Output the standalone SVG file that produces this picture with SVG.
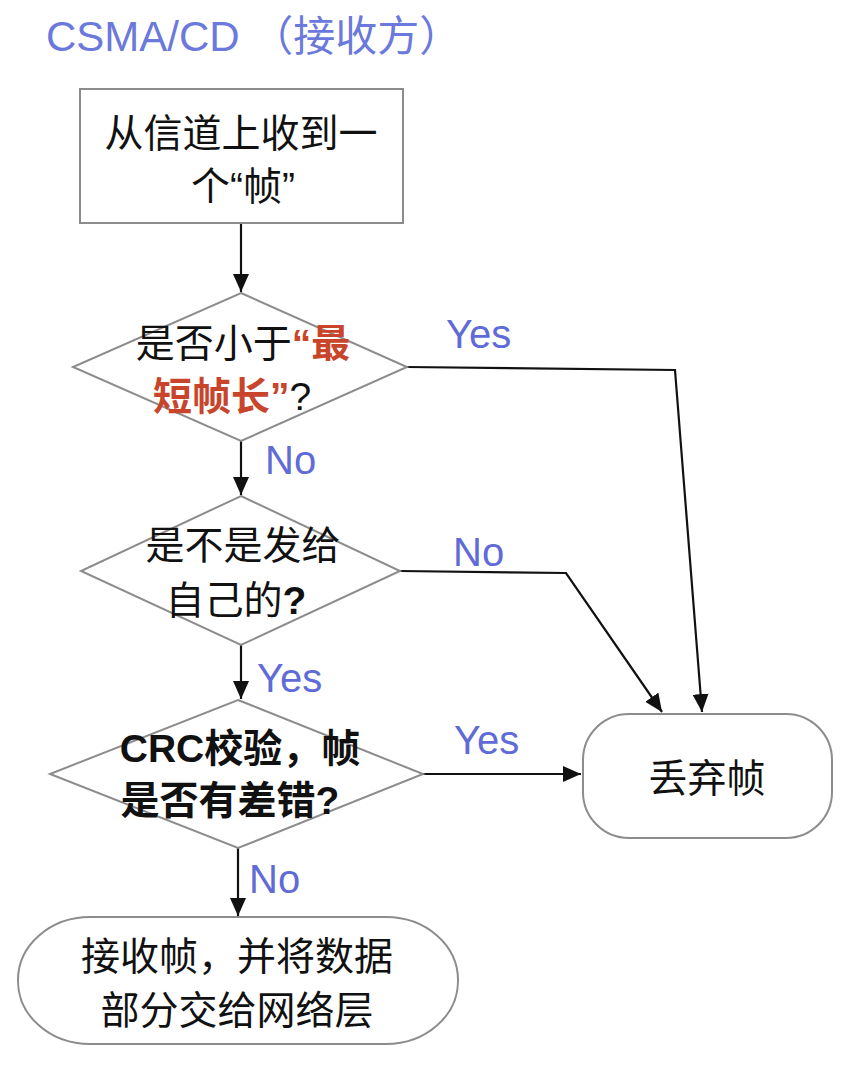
<svg xmlns="http://www.w3.org/2000/svg" width="850" height="1072" viewBox="0 0 850 1072">
  <style>
    .shape { fill: #ffffff; stroke: #8c8c8c; stroke-width: 2; }
    .edge { fill: none; stroke: #111111; stroke-width: 2.2; }
    .txt { font-family: "Liberation Sans", "Noto Sans CJK SC", sans-serif; font-size: 39px; fill: #111111; text-anchor: middle; }
    .bold { font-weight: bold; }
    .hl { fill: #c8452b; font-weight: bold; }
    .lbl { font-family: "Liberation Sans", "Noto Sans CJK SC", sans-serif; font-size: 40px; fill: #5f6bd6; }
    .title { font-family: "Liberation Sans", "Noto Sans CJK SC", sans-serif; font-size: 42px; fill: #6b78dc; }
  </style>
  <defs>
    <marker id="arrow" markerUnits="userSpaceOnUse" markerWidth="18" markerHeight="16" refX="18" refY="8" orient="auto">
      <path d="M0,0 L18,8 L0,16 z" fill="#111111"/>
    </marker>
  </defs>

  <rect width="850" height="1072" fill="#ffffff"/>

  <text class="title" x="46" y="51">CSMA/CD （接收方）</text>

  <!-- connectors -->
  <g id="connectors">
    <line class="edge" x1="241" y1="223" x2="241" y2="292" marker-end="url(#arrow)"/>
    <line class="edge" x1="241" y1="441" x2="241" y2="495" marker-end="url(#arrow)"/>
    <line class="edge" x1="241" y1="645" x2="241" y2="699" marker-end="url(#arrow)"/>
    <line class="edge" x1="238" y1="848" x2="238" y2="916" marker-end="url(#arrow)"/>
    <polyline class="edge" points="407,367 675,370 702,712" marker-end="url(#arrow)"/>
    <polyline class="edge" points="400,571 566,573 662,712" marker-end="url(#arrow)"/>
    <line class="edge" x1="423" y1="774" x2="581" y2="774" marker-end="url(#arrow)"/>

    <text class="lbl" x="446" y="348">Yes</text>
    <text class="lbl" x="265" y="474">No</text>
    <text class="lbl" x="453" y="566">No</text>
    <text class="lbl" x="257" y="692">Yes</text>
    <text class="lbl" x="454" y="754">Yes</text>
    <text class="lbl" x="249" y="893">No</text>
  </g>

  <!-- start: frame received from the channel -->
  <g id="receive">
    <rect class="shape" x="80" y="89" width="323" height="134"/>
    <text class="txt" x="241" y="147">从信道上收到一</text>
    <text class="txt" x="243" y="200">个“帧”</text>
  </g>

  <!-- decision: shorter than minimum frame length -->
  <g id="check-length">
    <polygon class="shape" points="241,293 407,367 241,441 73,367"/>
    <text class="txt" x="243" y="357">是否小于<tspan class="hl">“最</tspan></text>
    <text class="txt" x="232" y="410"><tspan class="hl">短帧长”</tspan>?</text>
  </g>

  <!-- decision: addressed to this station -->
  <g id="check-address">
    <polygon class="shape" points="241,496 400,571 241,645 81,571"/>
    <text class="txt" x="243" y="559">是不是发给</text>
    <text class="txt" x="236" y="614">自己的<tspan class="bold">?</tspan></text>
  </g>

  <!-- decision: CRC check -->
  <g id="check-crc">
    <polygon class="shape" points="238,700 423,774 238,848 50,774"/>
    <text class="txt bold" x="240" y="762">CRC校验，帧</text>
    <text class="txt bold" x="230" y="814">是否有差错?</text>
  </g>

  <!-- terminal: drop frame -->
  <g id="discard">
    <rect class="shape" x="583" y="714" width="249" height="124" rx="46" ry="46"/>
    <text class="txt" x="707" y="792">丢弃帧</text>
  </g>

  <!-- terminal: accept frame -->
  <g id="accept">
    <rect class="shape" x="18" y="917" width="440" height="127" rx="72" ry="63"/>
    <text class="txt" x="237" y="970">接收帧，并将数据</text>
    <text class="txt" x="237" y="1024">部分交给网络层</text>
  </g>
</svg>
